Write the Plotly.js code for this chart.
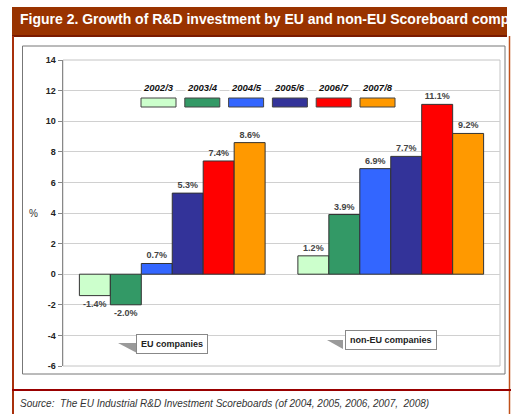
<!DOCTYPE html>
<html>
<head>
<meta charset="utf-8">
<script src="https://cdn.plot.ly/plotly-3.0.1.min.js"></script>
<style>
html,body{margin:0;padding:0;background:#fff;}
#chart{width:512px;height:414px;}
</style>
</head>
<body>
<div id="chart"></div>
<script>
// ---- data ----
const categories = ['EU companies', 'non-EU companies'];
const seriesNames = ['2002/3', '2003/4', '2004/5', '2005/6', '2006/7', '2007/8'];
const v2002_3 = [-1.4, 1.2];
const v2003_4 = [-2.0, 3.9];
const v2004_5 = [0.7, 6.9];
const v2005_6 = [5.3, 7.7];
const v2006_7 = [7.4, 11.1];
const v2007_8 = [8.6, 9.2];
const seriesValues = [v2002_3, v2003_4, v2004_5, v2005_6, v2006_7, v2007_8];
const yTicks = [-6, -4, -2, 0, 2, 4, 6, 8, 10, 12, 14];
const titleText = 'Figure 2. Growth of R&D investment by EU and non-EU Scoreboard companies';
const sourceText = 'Source:  The EU Industrial R&D Investment Scoreboards (of 2004, 2005, 2006, 2007,  2008)';
const categoryLabelY = [-4.54, -4.28];

// ---- styles ----
const colors = ['#ccffcc', '#339966', '#3366ff', '#333399', '#ff0000', '#ff9900'];
const FONT = 'Arial, "Liberation Sans", sans-serif';
const W = 512, H = 414;
const M = {l: 63, r: 12, t: 60, b: 48};
const PW = W - M.l - M.r, PH = H - M.t - M.b;
const px = x => (x - M.l) / PW;          // pixel -> paper x
const py = y => (H - M.b - y) / PH;      // pixel -> paper y

const traces = seriesNames.map((name, i) => ({
  type: 'bar',
  name: name,
  x: categories,
  y: seriesValues[i],
  text: seriesValues[i].map(v => v.toFixed(1) + '%'),
  textposition: 'outside',
  textfont: {family: FONT, size: 9, color: '#444', weight: 'bold'},
  cliponaxis: false,
  marker: {color: colors[i], line: {color: '#333', width: 1}},
  hoverinfo: 'x+y+name'
}));

const shapes = [];
const annotations = [];

// header bar
shapes.push({type: 'rect', xref: 'paper', yref: 'paper', x0: px(12), x1: px(507), y0: py(7), y1: py(36),
  fillcolor: '#993300', line: {width: 0}, layer: 'below'});
shapes.push({type: 'line', xref: 'paper', yref: 'paper', x0: px(12), x1: px(507), y0: py(36), y1: py(36),
  line: {color: '#7a1a00', width: 2}});
// left/right borders
shapes.push({type: 'line', xref: 'paper', yref: 'paper', x0: px(13), x1: px(13), y0: py(36), y1: py(414),
  line: {color: '#a8300c', width: 2}});
shapes.push({type: 'line', xref: 'paper', yref: 'paper', x0: px(509.5), x1: px(509.5), y0: py(36), y1: py(414),
  line: {color: '#c0501a', width: 1.5}});
// bottom separator
shapes.push({type: 'line', xref: 'paper', yref: 'paper', x0: px(12), x1: px(511), y0: py(390), y1: py(390),
  line: {color: '#990000', width: 2}});
// chart frame
shapes.push({type: 'rect', xref: 'paper', yref: 'paper', x0: px(22.5), x1: px(505), y0: py(46), y1: py(374),
  line: {color: '#777', width: 1}, layer: 'below'});
// plot area border
shapes.push({type: 'rect', xref: 'paper', yref: 'paper', x0: 0, x1: 1, y0: 0, y1: 1,
  line: {color: '#c4c4c4', width: 1}, layer: 'below'});

// header title
annotations.push({xref: 'paper', yref: 'paper', x: px(18), y: py(19), xanchor: 'left', yanchor: 'middle',
  text: '<b>' + titleText + '</b>', showarrow: false, font: {family: FONT, size: 14, color: '#ffffff'}});
// source
annotations.push({xref: 'paper', yref: 'paper', x: px(18), y: py(403), xanchor: 'left', yanchor: 'middle',
  text: '<i>' + sourceText + '</i>', showarrow: false, font: {family: FONT, size: 10, color: '#333'}});
// y-axis unit
annotations.push({xref: 'paper', yref: 'y', x: px(33), y: 4, xanchor: 'center', yanchor: 'middle',
  text: '%', showarrow: false, font: {family: FONT, size: 10, color: '#333'}});

// legend (labels above swatches)
const legX0 = 141, legStep = 43.8, swW = 35;
seriesNames.forEach((name, i) => {
  const x0 = legX0 + i * legStep;
  shapes.push({type: 'rect', xref: 'paper', yref: 'paper', x0: px(x0), x1: px(x0 + swW), y0: py(98), y1: py(107),
    fillcolor: colors[i], line: {color: '#444', width: 1}});
  annotations.push({xref: 'paper', yref: 'paper', x: px(x0 + swW / 2), y: py(87), xanchor: 'center', yanchor: 'middle',
    text: '<b><i>' + name + '</i></b>', showarrow: false, bgcolor: '#ffffff', borderpad: 1,
    font: {family: FONT, size: 9.5, color: '#111'}});
});

// category callout labels
const triangles = [[118, 343, 137, 353], [327, 340, 343, 349]];
categories.forEach((c, i) => {
  const t = triangles[i];
  shapes.push({type: 'path', xref: 'paper', yref: 'paper',
    path: `M ${px(t[0])} ${py(t[1])} L ${px(t[2])} ${py(t[1])} L ${px(t[2])} ${py(t[3])} Z`,
    fillcolor: '#9a9a9a', line: {width: 0}});
  annotations.push({xref: 'x', yref: 'y', x: c, y: categoryLabelY[i], xanchor: 'center', yanchor: 'middle',
    text: '<b>' + c + '</b>', showarrow: false, bgcolor: '#ffffff', bordercolor: '#888', borderwidth: 1,
    borderpad: 4, font: {family: FONT, size: 9, color: '#222'}});
});

const layout = {
  width: W, height: H,
  margin: M,
  paper_bgcolor: '#ffffff', plot_bgcolor: '#ffffff',
  barmode: 'group', bargap: 0.15, bargroupgap: 0,
  showlegend: false,
  xaxis: {type: 'category', showticklabels: false, ticks: '', showgrid: false, zeroline: false, showline: false,
    range: [-0.5, 1.5], fixedrange: true},
  yaxis: {range: [-6, 14], tickvals: yTicks, ticktext: yTicks.map(String),
    ticks: 'outside', ticklen: 4, tickcolor: '#888', tickwidth: 1,
    showline: true, linecolor: '#888', linewidth: 1.5,
    showgrid: true, gridcolor: '#d0d0d0', gridwidth: 1, zeroline: false,
    tickfont: {family: FONT, size: 9, color: '#222', weight: 'bold'}, fixedrange: true},
  shapes: shapes,
  annotations: annotations
};

Plotly.newPlot('chart', traces, layout, {displayModeBar: false, staticPlot: true});
</script>
</body>
</html>
